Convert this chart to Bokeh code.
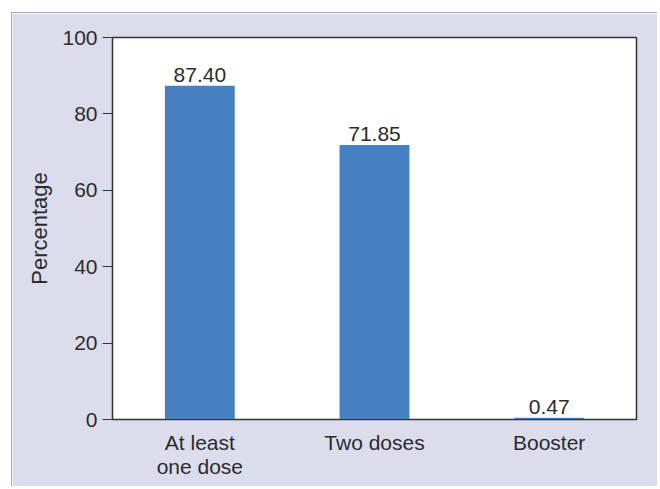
from bokeh.plotting import figure
from bokeh.models import Range1d, ColumnDataSource, FactorRange
from bokeh.core.properties import value
from bokeh.embed import file_html
from bokeh.resources import INLINE

categories = ["At least\none dose", "Two doses", "Booster"]
percentages = [87.40, 71.85, 0.47]
value_labels = ["87.40", "71.85", "0.47"]
y_ticks = [0, 20, 40, 60, 80, 100]

FONT = "Liberation Sans"
TXT = "#2b2b2b"
FS = "21px"

src = ColumnDataSource(dict(x=categories, y=percentages, lab=value_labels))

p = figure(width=646, height=474, x_range=FactorRange(*categories, range_padding=0),
           y_range=Range1d(0, 100), output_backend="svg", toolbar_location=None,
           min_border_left=100, min_border_right=22, min_border_top=24, min_border_bottom=68)
p.styles = {"margin-left": "11px", "margin-top": "12px",
            "border-left": "1px solid #a8a8a8", "border-top": "1px solid #a8a8a8"}
p.border_fill_color = "#dbdded"
p.background_fill_color = "white"
p.outline_line_color = "#333333"
p.outline_line_width = 1.5

p.vbar(x="x", top="y", width=0.4, source=src, fill_color="#4580c0", line_color=None)
p.text(x="x", y="y", text="lab", source=src, text_align="center", text_baseline="bottom",
       y_offset=-4, text_font=value(FONT), text_font_size=FS, text_color=TXT)

p.xgrid.visible = False
p.ygrid.visible = False

ya = p.yaxis[0]
ya.ticker = y_ticks
ya.minor_tick_line_color = None
ya.major_tick_out = 10
ya.major_tick_in = 0
ya.major_tick_line_color = "#333333"
ya.axis_line_color = "#333333"
ya.major_label_text_font = FONT
ya.major_label_text_font_size = FS
ya.major_label_text_color = TXT
ya.major_label_standoff = 5
ya.axis_label = "Percentage"
ya.axis_label_text_font = FONT
ya.axis_label_text_font_size = "22px"
ya.axis_label_text_font_style = "normal"
ya.axis_label_text_color = TXT
ya.axis_label_standoff = 7

xa = p.xaxis[0]
xa.major_tick_line_color = None
xa.minor_tick_line_color = None
xa.axis_line_color = "#333333"
xa.major_label_text_font = FONT
xa.major_label_text_font_size = FS
xa.major_label_text_color = TXT
xa.major_label_text_line_height = 1.05
xa.major_label_standoff = 5

open("out.html", "w").write(file_html(p, INLINE))
